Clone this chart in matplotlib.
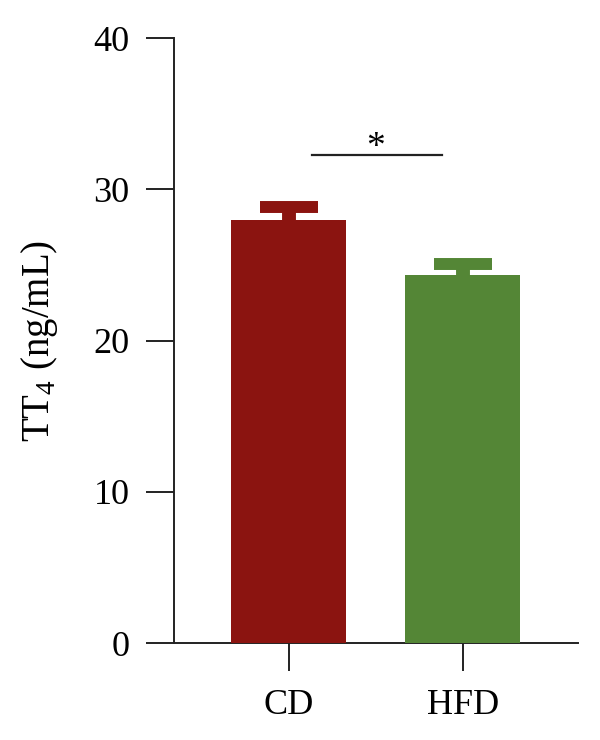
import matplotlib
matplotlib.use("Agg")
import matplotlib.pyplot as plt

categories = ["CD", "HFD"]
means = [27.95, 24.35]
sems = [0.85, 0.72]
colors = ["#8B1410", "#548636"]
yticks = [0, 10, 20, 30, 40]
sig_text = "*"
sig_y = 32.3
ylabel = r"TT$_{\mathregular{4}}$ (ng/mL)"

plt.rcParams["font.family"] = ["Liberation Serif", "DejaVu Serif"]
plt.rcParams["mathtext.fontset"] = "custom"
plt.rcParams["mathtext.rm"] = "Liberation Serif"

fig = plt.figure(figsize=(6, 7.4), dpi=100)
ax = fig.add_axes([0.29, 0.131, 0.673, 0.8176])

bar_w = 0.66
cap_half = 0.167
x = list(range(len(categories)))
for xi, m, s, c in zip(x, means, sems, colors):
    ax.vlines(xi, m - 0.2, m + s, colors=c, linewidth=10, capstyle="butt", zorder=2)
    ax.hlines(m + s, xi - cap_half, xi + cap_half, colors=c, linewidth=8.6,
              capstyle="butt", zorder=2)
    ax.bar([xi], [m], width=bar_w, color=c, zorder=3)

ax.plot([0.135, 0.88], [sig_y, sig_y], color="#222222", lw=1.6, zorder=4)
ax.text(0.5, sig_y - 0.15, sig_text, ha="center", va="baseline", fontsize=27)

ax.set_xlim(-0.66, 1.66)
ax.set_ylim(0, 40)
ax.set_yticks(yticks)
ax.set_xticks(x)
ax.set_xticklabels(categories)
ax.spines["top"].set_visible(False)
ax.spines["right"].set_visible(False)
for sp in ["left", "bottom"]:
    ax.spines[sp].set_linewidth(1.4)
    ax.spines[sp].set_color("#222222")
ax.tick_params(axis="both", length=20, width=1.4, color="#222222",
               labelsize=26, direction="out")
ax.tick_params(axis="y", pad=12)
ax.tick_params(axis="x", pad=13)
ax.set_ylabel(ylabel, fontsize=28, labelpad=24)

fig.savefig("out.png", dpi=100)
